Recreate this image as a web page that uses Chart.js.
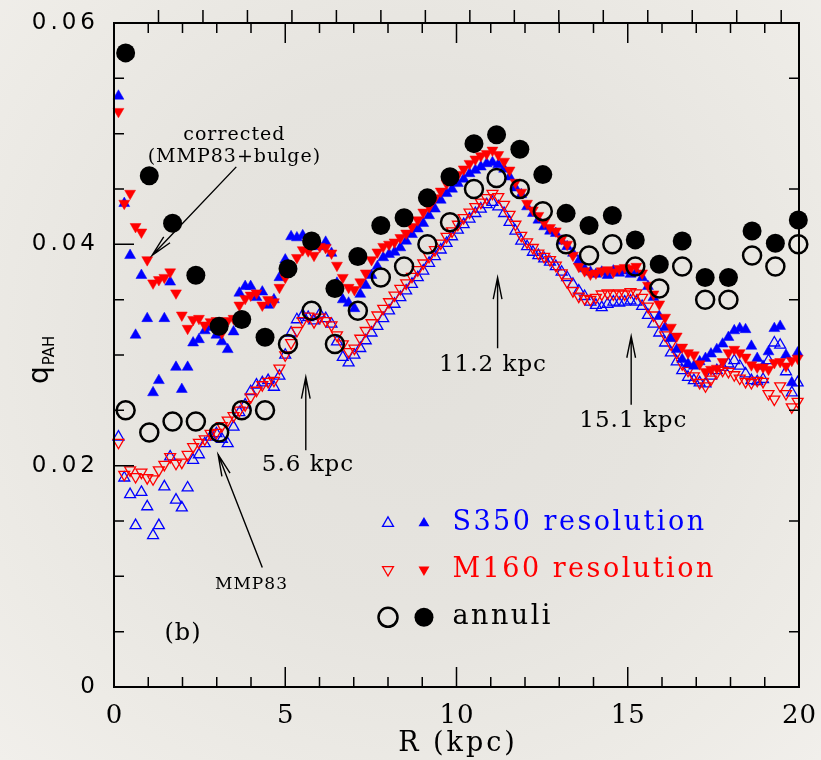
<!DOCTYPE html>
<html lang="en">
<head>
  <meta charset="UTF-8" />
  <title>q_PAH vs R</title>
  <script src="https://cdn.jsdelivr.net/npm/chart.js"></script>
  <style>
    html, body { margin: 0; padding: 0; }
    body {
      width: 821px; height: 760px; overflow: hidden;
      background: radial-gradient(ellipse at 50% 45%, #e3e1dc 0%, #e6e4df 45%, #edebe6 80%, #f1efeb 100%);
    }
    #wrap { position: relative; width: 821px; height: 760px; }
  </style>
</head>
<body>
  <div id="wrap"><canvas id="qpah" width="821" height="760"></canvas></div>

  <script>
    // radii of the profile points (kpc)
    const radius = [
      0.13, 0.30, 0.47, 0.63, 0.80, 0.97, 1.14, 1.31, 1.47, 1.64,
      1.81, 1.98, 2.15, 2.31, 2.48, 2.65, 2.82, 2.99, 3.15, 3.32,
      3.49, 3.66, 3.83, 3.99, 4.16, 4.33, 4.50, 4.67, 4.83, 5.00,
      5.17, 5.34, 5.51, 5.67, 5.84, 6.01, 6.18, 6.35, 6.51, 6.68,
      6.85, 7.02, 7.19, 7.35, 7.52, 7.69, 7.86, 8.03, 8.19, 8.36,
      8.53, 8.70, 8.87, 9.03, 9.20, 9.37, 9.54, 9.71, 9.87, 10.04,
      10.21, 10.38, 10.55, 10.71, 10.88, 11.05, 11.22, 11.39, 11.55, 11.72,
      11.89, 12.06, 12.23, 12.39, 12.56, 12.73, 12.90, 13.07, 13.23, 13.40,
      13.57, 13.74, 13.91, 14.07, 14.24, 14.41, 14.58, 14.75, 14.91, 15.08,
      15.25, 15.42, 15.59, 15.75, 15.92, 16.09, 16.26, 16.43, 16.59, 16.76,
      16.93, 17.10, 17.27, 17.43, 17.60, 17.77, 17.94, 18.11, 18.27, 18.44,
      18.61, 18.78, 18.95, 19.11, 19.28, 19.45, 19.62, 19.79, 19.96
    ];

    // S350 resolution, MMP83 (open) and corrected (filled)
    const s350 = [
      .0226, .0189, .0174, .0146, .0176, .0163, .0137, .0146, .0181, .0208,
      .0169, .0162, .0180, .0205, .0210, .0220, .0226, .0229, .0224, .0220,
      .0235, .0248, .0255, .0267, .0273, .0275, .0277, .0271, .0281, .0300,
      .0320, .0332, .0336, .0334, .0331, .0337, .0333, .0328, .0312, .0298,
      .0293, .0300, .0306, .0313, .0320, .0326, .0333, .0340, .0346, .0352,
      .0358, .0364, .0370, .0376, .0383, .0389, .0395, .0401, .0407, .0413,
      .0418, .0423, .0428, .0432, .0436, .0438, .0434, .0428, .0420, .0412,
      .0403, .0398, .0393, .0390, .0387, .0384, .0380, .0375, .0370, .0364,
      .0358, .0353, .0348, .0345, .0343, .0346, .0348, .0347, .0348, .0349,
      .0348, .0344, .0336, .0328, .0320, .0311, .0302, .0294, .0286, .0280,
      .0277, .0275, .0274, .0281, .0286, .0289, .0292, .0295, .0290, .0283,
      .0277, .0276, .0278, .0295, .0311, .0309, .0285, .0266, .0275
    ];
    const s350Corr = [
      .0534, .0437, .0390, .0318, .0372, .0333, .0266, .0277, .0333, .0366,
      .0289, .0269, .0289, .0311, .0314, .0322, .0325, .0318, .0312, .0305,
      .0321, .0356, .0362, .0362, .0352, .0357, .0345, .0350, .0370, .0386,
      .0407, .0406, .0408, .0404, .0400, .0398, .0402, .0392, .0365, .0350,
      .0347, .0342, .0355, .0363, .0372, .0380, .0388, .0391, .0393, .0397,
      .0403, .0409, .0414, .0419, .0426, .0432, .0440, .0446, .0450, .0455,
      .0459, .0464, .0467, .0470, .0473, .0474, .0472, .0468, .0461, .0451,
      .0445, .0434, .0428, .0422, .0416, .0412, .0410, .0403, .0398, .0392,
      .0385, .0378, .0375, .0373, .0375, .0372, .0376, .0374, .0376, .0373,
      .0375, .0370, .0362, .0352, .0335, .0325, .0315, .0305, .0296, .0292,
      .0290, .0294, .0297, .0301, .0305, .0310, .0316, .0322, .0324, .0323,
      .0308, .0297, .0290, .0303, .0324, .0326, .0300, .0275, .0302
    ];

    // M160 resolution, MMP83 (open) and corrected (filled)
    const m160 = [
      .0221, .0192, .0196, .0190, .0194, .0189, .0188, .0196, .0201, .0208,
      .0202, .0203, .0210, .0217, .0221, .0224, .0229, .0230, .0236, .0241,
      .0245, .0250, .0255, .0262, .0268, .0273, .0276, .0277, .0288, .0300,
      .0311, .0322, .0331, .0335, .0330, .0334, .0331, .0327, .0318, .0310,
      .0303, .0306, .0315, .0322, .0329, .0336, .0342, .0348, .0354, .0360,
      .0365, .0371, .0377, .0383, .0389, .0395, .0401, .0407, .0412, .0418,
      .0424, .0429, .0434, .0438, .0442, .0446, .0443, .0436, .0427, .0418,
      .0408, .0402, .0397, .0392, .0389, .0386, .0381, .0374, .0366, .0358,
      .0353, .0351, .0350, .0352, .0355, .0356, .0355, .0356, .0355, .0357,
      .0356, .0352, .0344, .0336, .0330, .0318, .0310, .0302, .0292, .0286,
      .0281, .0275, .0272, .0278, .0284, .0286, .0285, .0282, .0279, .0276,
      .0275, .0277, .0276, .0265, .0260, .0272, .0265, .0253, .0258
    ];
    const m160Corr = [
      .0520, .0437, .0446, .0416, .0411, .0386, .0365, .0368, .0370, .0375,
      .0356, .0336, .0324, .0332, .0333, .0327, .0330, .0331, .0320, .0331,
      .0333, .0345, .0351, .0354, .0356, .0345, .0350, .0348, .0361, .0370,
      .0377, .0388, .0395, .0394, .0390, .0398, .0397, .0392, .0381, .0370,
      .0361, .0359, .0366, .0374, .0386, .0393, .0398, .0400, .0402, .0406,
      .0410, .0416, .0422, .0429, .0434, .0442, .0448, .0455, .0460, .0463,
      .0468, .0473, .0477, .0480, .0482, .0485, .0481, .0475, .0467, .0456,
      .0447, .0437, .0431, .0426, .0420, .0415, .0412, .0405, .0400, .0390,
      .0380, .0376, .0373, .0374, .0376, .0377, .0375, .0378, .0379, .0378,
      .0380, .0374, .0363, .0355, .0346, .0334, .0325, .0317, .0307, .0302,
      .0300, .0292, .0285, .0287, .0288, .0294, .0302, .0305, .0302, .0298,
      .0291, .0289, .0289, .0287, .0293, .0294, .0290, .0295, .0297
    ];

    // annuli
    const annuliR = [
      0.34, 1.03, 1.71, 2.39, 3.07, 3.73, 4.41, 5.08, 5.77, 6.45,
      7.12, 7.79, 8.47, 9.15, 9.81, 10.51, 11.17, 11.85, 12.52, 13.20,
      13.87, 14.55, 15.22, 15.92, 16.59, 17.26, 17.94, 18.63, 19.31, 19.98
    ];
    const annuli = [
      .025, .023, .024, .024, .023, .025, .025, .031, .034, .031,
      .034, .037, .038, .040, .042, .045, .046, .045, .043, .040,
      .039, .040, .038, .036, .038, .035, .035, .039, .038, .040
    ];
    const annuliCorr = [
      .0573, .0462, .0419, .0372, .0326, .0332, .0316, .0378, .0403, .0360,
      .0389, .0417, .0424, .0442, .0461, .0491, .0499, .0486, .0463, .0428,
      .0417, .0426, .0404, .0382, .0403, .0370, .0370, .0412, .0401, .0422
    ];

    const xTicks = [0, 5, 10, 15, 20];
    const yTicks = [0, 0.02, 0.04, 0.06];
    const yTickLabels = ["0", "0.02", "0.04", "0.06"];

    const BLUE = "#0000ff", RED = "#ff0000", BLACK = "#000000";
    const SERIF = "'DejaVu Serif', serif";
    const SANS = "'DejaVu Sans', sans-serif";

    const pts = (xs, ys) => ys.map((v, i) => ({ x: xs[i], y: v }));

    function tri(label, data, color, filled, down, order) {
      return {
        label, data: pts(radius, data), order, clip: false,
        pointStyle: "triangle", rotation: down ? 180 : 0,
        pointRadius: 6.3, borderWidth: filled ? 0.5 : 1.3,
        borderColor: color, backgroundColor: filled ? color : "rgba(0,0,0,0)"
      };
    }

    // annotations in data coordinates
    const arrows = [
      { from: [3.57, 0.0470], to: [1.11, 0.0390] },
      { from: [4.33, 0.0108], to: [3.04, 0.0210] },
      { from: [5.60, 0.0214], to: [5.60, 0.0280] },
      { from: [11.2, 0.0306], to: [11.2, 0.0370] },
      { from: [15.1, 0.0255], to: [15.1, 0.0317] }
    ];
    const notes = [
      { text: "corrected", at: [3.5, 0.0499], size: 19, ls: 1 },
      { text: "(MMP83+bulge)", at: [3.5, 0.0479], size: 19, ls: 1 },
      { text: "MMP83", at: [4.0, 0.0093], size: 17, ls: 1 },
      { text: "5.6 kpc", at: [5.65, 0.0201], size: 23, ls: 1 },
      { text: "11.2 kpc", at: [11.05, 0.0291], size: 23, ls: 1 },
      { text: "15.1 kpc", at: [15.15, 0.0240], size: 23, ls: 1 },
      { text: "(b)", at: [2.0, 0.0048], size: 24, ls: 1 }
    ];

    function text(ctx, str, x, y, font, color, align, ls) {
      ctx.font = font;
      ctx.fillStyle = color;
      ctx.textBaseline = "middle";
      ctx.letterSpacing = (ls || 0) + "px";
      ctx.textAlign = "left";
      const w = ctx.measureText(str).width - (ls || 0);
      let x0 = x;
      if (align === "center") x0 = x - w / 2;
      if (align === "right") x0 = x - w;
      ctx.fillText(str, x0, y);
      ctx.letterSpacing = "0px";
    }

    function marker(ctx, x, y, kind, color, filled) {
      ctx.beginPath();
      if (kind === "circle") {
        ctx.arc(x, y, 9.5, 0, Math.PI * 2);
      } else {
        const r = 6.3, s = kind === "down" ? -1 : 1;
        ctx.moveTo(x, y - s * r);
        ctx.lineTo(x + r * 0.866, y + s * r / 2);
        ctx.lineTo(x - r * 0.866, y + s * r / 2);
        ctx.closePath();
      }
      if (filled) { ctx.fillStyle = color; ctx.fill(); }
      else { ctx.strokeStyle = color; ctx.lineWidth = kind === "circle" ? 2.5 : 1.3; ctx.stroke(); }
    }

    const framePlugin = {
      id: "frame",
      afterDraw(chart) {
        const { ctx, chartArea: a } = chart;
        const xs = chart.scales.x, ys = chart.scales.y, xt = chart.scales.xTop;
        ctx.save();

        // frame and inward ticks
        ctx.strokeStyle = BLACK;
        ctx.lineWidth = 2;
        ctx.strokeRect(a.left, a.top, a.right - a.left, a.bottom - a.top);
        ctx.lineWidth = 1.5;
        ctx.beginPath();
        for (let v = 0; v <= 20; v++) {
          const px = xs.getPixelForValue(v);
          const len = v % 5 === 0 ? 20 : 10;
          ctx.moveTo(px, a.bottom); ctx.lineTo(px, a.bottom - len);
          ctx.moveTo(px, a.top); ctx.lineTo(px, a.top + len);
        }
        for (let i = 0; i <= 12; i++) {
          const py = ys.getPixelForValue(i * 0.005);
          const len = i % 4 === 0 ? 20 : 10;
          ctx.moveTo(a.left, py); ctx.lineTo(a.left + len, py);
        }
        for (let i = 0; i < 6; i++) {
          const py = ys.getPixelForValue(0.005 + i * 0.01);
          ctx.moveTo(a.right, py); ctx.lineTo(a.right - 10, py);
        }
        for (let v = 1; v <= 15; v++) {
          const px = xt.getPixelForValue(v);
          ctx.moveTo(px, a.top); ctx.lineTo(px, a.top - 13);
        }
        ctx.stroke();

        // tick labels
        xTicks.forEach(v => text(ctx, String(v), xs.getPixelForValue(v), a.bottom + 29, "26px " + SERIF, BLACK, "center", 1));
        yTicks.forEach((v, i) => text(ctx, yTickLabels[i], a.left - 19, ys.getPixelForValue(v), "23px " + SANS, BLACK, "right", 4));

        // axis titles
        text(ctx, "R (kpc)", (a.left + a.right) / 2, 744, "27px " + SERIF, BLACK, "center", 3);
        ctx.save();
        ctx.translate(48, 384);
        ctx.rotate(-Math.PI / 2);
        ctx.font = "28px " + SANS;
        ctx.fillStyle = BLACK;
        ctx.textAlign = "left";
        ctx.textBaseline = "alphabetic";
        ctx.fillText("q", 0, 0);
        const qw = ctx.measureText("q").width;
        ctx.font = "15px " + SANS;
        ctx.fillText("PAH", qw + 1, 6);
        ctx.restore();

        // arrows
        ctx.strokeStyle = BLACK;
        ctx.lineWidth = 1.4;
        arrows.forEach(ar => {
          const x1 = xs.getPixelForValue(ar.from[0]), y1 = ys.getPixelForValue(ar.from[1]);
          const x2 = xs.getPixelForValue(ar.to[0]), y2 = ys.getPixelForValue(ar.to[1]);
          const ang = Math.atan2(y2 - y1, x2 - x1);
          const L = 22, spread = 0.2;
          ctx.beginPath();
          ctx.moveTo(x1, y1); ctx.lineTo(x2, y2);
          ctx.moveTo(x2 - L * Math.cos(ang - spread), y2 - L * Math.sin(ang - spread));
          ctx.lineTo(x2, y2);
          ctx.lineTo(x2 - L * Math.cos(ang + spread), y2 - L * Math.sin(ang + spread));
          ctx.stroke();
        });
        notes.forEach(n => text(ctx, n.text, xs.getPixelForValue(n.at[0]), ys.getPixelForValue(n.at[1]),
          n.size + "px " + SERIF, BLACK, "center", n.ls));

        // legend
        const rows = [
          { y: 0.0148, kind: "up", color: BLUE, label: "S350 resolution" },
          { y: 0.0106, kind: "down", color: RED, label: "M160 resolution" },
          { y: 0.0063, kind: "circle", color: BLACK, label: "annuli" }
        ];
        rows.forEach(r => {
          const py = ys.getPixelForValue(r.y);
          marker(ctx, xs.getPixelForValue(8.0), py, r.kind, r.color, false);
          marker(ctx, xs.getPixelForValue(9.05), py, r.kind, r.color, true);
          text(ctx, r.label, xs.getPixelForValue(9.88), py, "27px " + SERIF, r.color, "left", 2.5);
        });
        ctx.restore();
      }
    };

    new Chart(document.getElementById("qpah"), {
      type: "scatter",
      data: {
        datasets: [
          {
            label: "annuli corrected", data: pts(annuliR, annuliCorr), order: 1, clip: false,
            pointStyle: "circle", pointRadius: 9.5, borderWidth: 0,
            backgroundColor: BLACK, borderColor: BLACK
          },
          {
            label: "annuli", data: pts(annuliR, annuli), order: 2, clip: false,
            pointStyle: "circle", pointRadius: 9, borderWidth: 2.5,
            backgroundColor: "rgba(0,0,0,0)", borderColor: BLACK
          },
          tri("M160 corrected", m160Corr, RED, true, true, 3),
          tri("S350 corrected", s350Corr, BLUE, true, false, 4),
          tri("M160", m160, RED, false, true, 5),
          tri("S350", s350, BLUE, false, false, 6)
        ]
      },
      options: {
        responsive: false,
        animation: false,
        layout: { padding: 0 },
        plugins: { legend: { display: false }, tooltip: { enabled: false } },
        scales: {
          x: {
            type: "linear", position: "bottom", min: 0, max: 20,
            ticks: { display: false }, grid: { display: false }, border: { display: false },
            afterFit(s) { s.height = 73; }
          },
          xTop: {
            type: "linear", position: "top", min: 0, max: 15.4,
            ticks: { display: false }, grid: { display: false }, border: { display: false },
            afterFit(s) { s.height = 23; }
          },
          y: {
            type: "linear", position: "left", min: 0, max: 0.06,
            ticks: { display: false }, grid: { display: false }, border: { display: false },
            afterFit(s) { s.width = 114; }
          },
          yRight: {
            type: "linear", position: "right", min: 0, max: 0.06,
            ticks: { display: false }, grid: { display: false }, border: { display: false },
            afterFit(s) { s.width = 22; }
          }
        }
      },
      plugins: [framePlugin]
    });
  </script>
</body>
</html>
